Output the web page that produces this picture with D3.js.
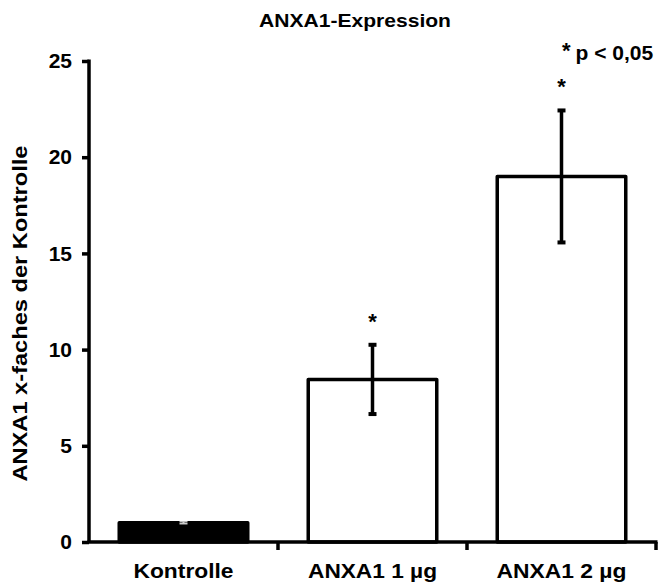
<!DOCTYPE html>
<html>
<head>
<meta charset="utf-8">
<script src="https://cdn.jsdelivr.net/npm/d3@7"></script>
<style>
  body { margin: 0; background: #fff; }
  svg text { font-family: "Liberation Sans", Arial, sans-serif; font-weight: bold; fill: #000; }
</style>
</head>
<body>
<svg id="chart" width="662" height="582"></svg>
<script>
const categories = ['Kontrolle', 'ANXA1 1 µg', 'ANXA1 2 µg'];
const labelWidths = [100, 129, 130];
const means = [1.0, 8.45, 19.0];
const errors = [0.05, 1.8, 3.43];
const fills = ['#000', '#fff', '#fff'];
const significant = [false, true, true];
const yTicks = [0, 5, 10, 15, 20, 25];

const W = 662, H = 582;
const MARGINS = { top: 61, right: 6, bottom: 40, left: 89 };

const svg = d3.select('#chart');

const x = d3.scaleBand()
  .domain(categories)
  .range([MARGINS.left, W - MARGINS.right])
  .paddingInner(0.32)
  .paddingOuter(0.16);

const y = d3.scaleLinear()
  .domain([0, 25])
  .range([H - MARGINS.bottom, MARGINS.top]);

// Title
svg.append('text')
  .attr('x', 355).attr('y', 27)
  .attr('text-anchor', 'middle')
  .attr('textLength', 192)
  .attr('lengthAdjust', 'spacingAndGlyphs')
  .style('font-size', '19px')
  .text('ANXA1-Expression');

// Bars
svg.selectAll('rect.bar').data(categories).enter().append('rect')
  .attr('class', 'bar')
  .attr('x', d => x(d))
  .attr('y', (d, i) => y(means[i]))
  .attr('width', x.bandwidth())
  .attr('height', (d, i) => y(0) - y(means[i]))
  .attr('fill', (d, i) => fills[i])
  .attr('stroke', '#000')
  .attr('stroke-width', 3.5)
  .attr('stroke-linejoin', 'round');

// Error bars
const cx = d => x(d) + x.bandwidth() / 2;
const err = svg.append('g').attr('class', 'errors');
categories.forEach((c, i) => {
  const top = y(means[i] + errors[i]);
  const bot = y(means[i] - errors[i]);
  const col = i === 0 ? '#ccc' : '#000';
  err.append('line')
    .attr('x1', cx(c)).attr('x2', cx(c))
    .attr('y1', top).attr('y2', bot)
    .attr('stroke', col).attr('stroke-width', i === 0 ? 2 : 3.5);
  [top, bot].forEach(v => {
    err.append('line')
      .attr('x1', cx(c) - 4).attr('x2', cx(c) + 4)
      .attr('y1', v).attr('y2', v)
      .attr('stroke', col).attr('stroke-width', i === 0 ? 1.5 : 4);
  });
  if (significant[i]) {
    svg.append('text')
      .attr('x', cx(c)).attr('y', top - 16)
      .attr('text-anchor', 'middle')
      .style('font-size', '22px')
      .text('*');
  }
});

// Y axis
const yAxis = d3.axisLeft(y).tickValues(yTicks).tickSize(7).tickSizeOuter(0).tickPadding(10);
const gy = svg.append('g')
  .attr('transform', `translate(${MARGINS.left},0)`)
  .call(yAxis);
gy.select('.domain').attr('stroke-width', 3.5).attr('d', `M0,${y(25) - 1.5}V${y(0)}`);
gy.selectAll('.tick line').attr('stroke-width', 3.5);
gy.selectAll('.tick text')
  .style('font-size', '21px')
  .style('font-family', '"Liberation Sans", Arial, sans-serif')
  .style('font-weight', 'bold');

// X axis (ticks on the band boundaries)
const xEnd = W - MARGINS.right;
const gx = svg.append('g');
gx.append('line')
  .attr('x1', MARGINS.left - 1.5).attr('x2', xEnd + 1.5)
  .attr('y1', y(0)).attr('y2', y(0))
  .attr('stroke', '#000').attr('stroke-width', 3.5);
categories.forEach((c, i) => {
  const bx = x(c) + x.bandwidth() + x.step() * x.paddingInner() / 2;
  gx.append('line')
    .attr('x1', Math.min(bx, xEnd)).attr('x2', Math.min(bx, xEnd))
    .attr('y1', y(0)).attr('y2', y(0) + 8)
    .attr('stroke', '#000').attr('stroke-width', 3.5);
  gx.append('text')
    .attr('x', cx(c)).attr('y', 578)
    .attr('text-anchor', 'middle')
    .attr('textLength', labelWidths[i])
    .attr('lengthAdjust', 'spacingAndGlyphs')
    .style('font-size', '20px')
    .text(c);
});

// Y axis label
svg.append('text')
  .attr('transform', `translate(27,${(y(0) + y(25)) / 2 + 12}) rotate(-90)`)
  .attr('text-anchor', 'middle')
  .attr('textLength', 336)
  .attr('lengthAdjust', 'spacingAndGlyphs')
  .style('font-size', '20px')
  .text('ANXA1 x-faches der Kontrolle');

// Significance note
const note = svg.append('text')
  .attr('x', 562).attr('y', 60);
note.append('tspan').style('font-size', '22px').attr('dy', -2).text('*');
note.append('tspan').style('font-size', '21px').attr('dy', 2).attr('dx', 5).text('p < 0,05');
</script>
</body>
</html>
